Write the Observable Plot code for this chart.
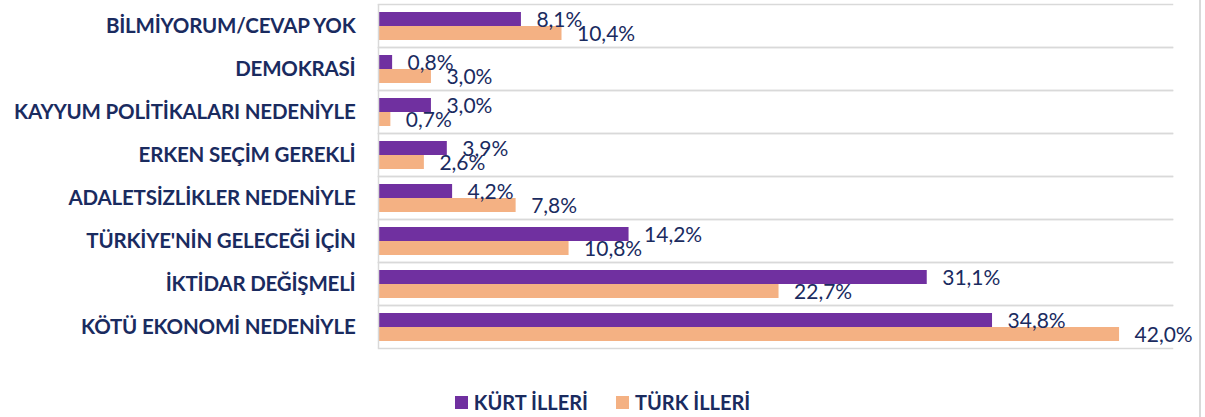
<!DOCTYPE html>
<html>
<head>
<meta charset="utf-8">
<script src="https://cdn.jsdelivr.net/npm/d3@7"></script>
<script src="https://cdn.jsdelivr.net/npm/@observablehq/plot@0.6"></script>
<style>
  html, body { margin: 0; padding: 0; background: #fff; }
  #wrap { position: relative; width: 1205px; height: 417px; overflow: hidden; font-family: Lato, sans-serif; }
  #edge { position: absolute; left: 1199px; top: 0; width: 2px; height: 417px; background: #d9d9d9; }
  #legend { position: absolute; top: 390px; left: 0; width: 1205px; display: flex; justify-content: center; gap: 28px; font-weight: bold; font-size: 20px; color: #1a2b5f; }
  .item { display: flex; align-items: center; gap: 6px; }
  .sw { width: 13px; height: 13px; display: inline-block; }
  .fylab text { letter-spacing: -0.2px; }
</style>
</head>
<body>
<div id="wrap"><div id="chart"></div><div id="legend"></div><div id="edge"></div></div>
<script>
const categories = ["BİLMİYORUM/CEVAP YOK", "DEMOKRASİ", "KAYYUM POLİTİKALARI NEDENİYLE", "ERKEN SEÇİM GEREKLİ", "ADALETSİZLİKLER NEDENİYLE", "TÜRKİYE'NİN GELECEĞİ İÇİN", "İKTİDAR DEĞİŞMELİ", "KÖTÜ EKONOMİ NEDENİYLE"];
const series = ["KÜRT İLLERİ", "TÜRK İLLERİ"];
const kurt = [8.1, 0.8, 3.0, 3.9, 4.2, 14.2, 31.1, 34.8];
const turk = [10.4, 3.0, 0.7, 2.6, 7.8, 10.8, 22.7, 42.0];
const colors = ["#7030A0", "#F4B183"];

const data = categories.flatMap((c, i) => [
  {category: c, series: series[0], value: kurt[i]},
  {category: c, series: series[1], value: turk[i]}
]);
const fmt = v => v.toFixed(1).replace(".", ",") + "%";

const chart = Plot.plot({
  width: 1205,
  height: 360,
  marginLeft: 378,
  marginRight: 33,
  marginTop: 1,
  marginBottom: 10,
  style: {fontFamily: "Lato, sans-serif", background: "transparent"},
  x: {domain: [0, 45], axis: null},
  y: {domain: series, paddingInner: 0, paddingOuter: 0.5, axis: null},
  fy: {domain: categories, padding: 0, axis: null},
  color: {domain: series, range: colors},
  marks: [
    Plot.frame({anchor: "top", stroke: "#d9d9d9", strokeWidth: 1.5}),
    Plot.frame({anchor: "bottom", stroke: "#d9d9d9", strokeWidth: 1.5}),
    Plot.barX(data, {x: "value", y: "series", fy: "category", fill: "series"}),
    Plot.ruleX([0], {stroke: "#d9d9d9", strokeWidth: 1.5}),
    Plot.text(data, {x: "value", y: "series", fy: "category", text: d => fmt(d.value), dx: 15, dy: 1, textAnchor: "start", fill: "#1a2b5f", fontSize: 21}),
    Plot.axisFy({anchor: "left", tickSize: 0, tickPadding: 23, label: null, fontSize: 20.5, fontWeight: "bold", color: "#1a2b5f", className: "fylab"})
  ]
});
document.getElementById("chart").appendChild(chart);

const legend = document.getElementById("legend");
series.forEach((s, i) => {
  const item = document.createElement("div");
  item.className = "item";
  const sw = document.createElement("span");
  sw.className = "sw";
  sw.style.background = colors[i];
  const t = document.createElement("span");
  t.textContent = s;
  item.appendChild(sw);
  item.appendChild(t);
  legend.appendChild(item);
});
</script>
</body>
</html>
